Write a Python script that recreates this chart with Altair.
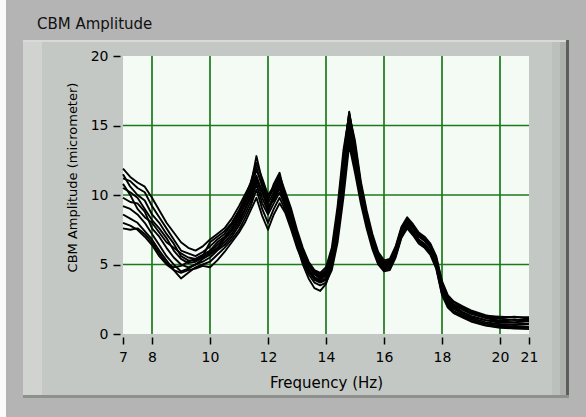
import altair as alt
import pandas as pd

# ---------------- data ----------------
freq = [7.0, 7.25, 7.5, 7.75, 8.0, 8.25, 8.5, 8.75, 9.0, 9.25, 9.5, 9.75, 10.0,
        10.25, 10.5, 10.75, 11.0, 11.2, 11.4, 11.6, 11.8, 12.0, 12.2, 12.4,
        12.6, 12.8, 13.0, 13.2, 13.4, 13.6, 13.8, 14.0, 14.2, 14.4, 14.6, 14.8,
        15.0, 15.2, 15.4, 15.6, 15.8, 16.0, 16.2, 16.4, 16.6, 16.8, 17.0, 17.2,
        17.4, 17.6, 17.8, 18.0, 18.2, 18.4, 18.7, 19.0, 19.5, 20.0, 20.5, 21.0]

run01 = [11.9, 11.3, 10.9, 10.6, 9.8, 8.9, 8.0, 7.3, 6.6, 6.2, 6.0, 6.3, 6.8, 7.2, 7.6, 8.3, 9.2, 10.0, 10.8, 12.0, 10.6, 9.8, 10.4, 11.2,
         10.0, 8.8, 7.3, 6.1, 5.1, 4.5, 4.3, 4.6, 5.8, 8.6, 12.4, 16.0, 13.4, 10.7, 8.6, 7.0, 5.8, 5.2, 5.3, 6.2, 7.6, 8.3, 7.8, 7.2, 6.9, 6.4, 5.5, 3.7, 2.7, 2.3, 1.9, 1.6, 1.3, 1.25, 1.2, 1.2]
run02 = [11.2, 11.0, 10.5, 10.2, 9.2, 8.4, 7.6, 6.8, 6.0, 5.8, 5.6, 5.9, 6.3, 6.8, 7.2, 7.9, 8.8, 9.6, 10.6, 12.8, 11.0, 9.6, 10.8, 11.6,
         9.8, 8.6, 7.1, 5.9, 5.0, 4.3, 4.1, 4.4, 5.6, 8.2, 12.0, 15.6, 13.1, 10.5, 8.4, 6.8, 5.6, 5.0, 5.1, 6.0, 7.4, 8.1, 7.7, 7.1, 6.8, 6.3, 5.3, 3.4, 2.5, 2.1, 1.75, 1.45, 1.15, 0.95, 1.05, 0.9]
run03 = [10.5, 10.2, 9.8, 9.0, 8.2, 7.6, 6.9, 6.0, 5.4, 5.1, 5.2, 5.5, 5.9, 6.4, 6.9, 7.5, 8.4, 9.3, 10.2, 11.4, 10.2, 9.0, 10.0, 10.8,
         9.6, 8.4, 7.0, 5.8, 4.9, 4.3, 4.0, 4.3, 5.4, 8.0, 11.8, 15.4, 12.9, 10.3, 8.3, 6.7, 5.5, 4.9, 5.0, 5.9, 7.3, 8.0, 7.6, 7.0, 6.7, 6.2, 5.2, 3.3, 2.35, 1.9, 1.55, 1.25, 1.0, 0.8, 0.8, 0.75]
run04 = [9.8, 9.5, 9.4, 8.8, 7.6, 7.0, 6.2, 5.5, 5.0, 4.8, 5.0, 5.4, 5.7, 6.1, 6.6, 7.2, 8.0, 8.9, 9.8, 11.0, 10.4, 9.2, 9.6, 10.5,
         9.3, 8.2, 6.8, 5.6, 4.7, 4.1, 3.9, 4.2, 5.2, 7.6, 11.2, 14.8, 12.6, 10.1, 8.1, 6.5, 5.3, 4.8, 4.9, 5.8, 7.2, 7.9, 7.4, 6.8, 6.5, 6.0, 5.0, 3.1, 2.2, 1.8, 1.45, 1.15, 0.85, 0.7, 0.65, 0.7]
run05 = [9.2, 9.0, 8.6, 8.0, 7.2, 6.4, 5.6, 5.0, 4.5, 4.7, 5.0, 5.2, 5.5, 6.0, 6.4, 7.0, 7.8, 8.6, 9.5, 10.8, 9.4, 8.6, 9.4, 10.2,
         9.1, 8.0, 6.6, 5.5, 4.6, 4.0, 3.8, 4.0, 5.0, 7.3, 10.8, 14.4, 12.3, 9.9, 8.0, 6.4, 5.2, 4.7, 4.8, 5.7, 7.1, 7.8, 7.3, 6.7, 6.4, 5.9, 4.9, 3.0, 2.1, 1.65, 1.35, 1.05, 0.75, 0.6, 0.55, 0.5]
run06 = [8.6, 8.3, 8.0, 7.4, 6.8, 6.0, 5.3, 4.6, 4.0, 4.4, 4.8, 5.0, 5.2, 5.7, 6.2, 6.8, 7.5, 8.3, 9.2, 10.4, 9.0, 8.0, 9.0, 9.8,
         8.9, 7.8, 6.5, 5.4, 4.5, 3.9, 3.7, 3.9, 4.8, 7.0, 10.4, 14.0, 12.0, 9.7, 7.8, 6.3, 5.1, 4.6, 4.7, 5.6, 7.0, 7.7, 7.2, 6.6, 6.3, 5.8, 4.8, 2.9, 2.0, 1.6, 1.3, 0.95, 0.65, 0.5, 0.5, 0.45]
run07 = [8.0, 7.8, 7.5, 7.0, 6.4, 5.6, 5.0, 4.6, 4.4, 4.6, 4.7, 4.9, 4.8, 5.3, 5.9, 6.6, 7.3, 8.0, 8.9, 9.8, 8.5, 7.5, 8.6, 9.4,
         8.7, 7.5, 6.2, 5.2, 4.3, 3.7, 3.5, 3.7, 4.6, 6.6, 9.8, 13.6, 11.6, 9.4, 7.6, 6.1, 5.0, 4.5, 4.6, 5.5, 6.9, 7.6, 7.1, 6.5, 6.2, 5.7, 4.7, 2.8, 1.9, 1.5, 1.2, 0.9, 0.6, 0.45, 0.4, 0.35]
run08 = [7.6, 7.5, 7.6, 7.2, 6.6, 5.8, 5.1, 4.8, 4.9, 5.2, 5.4, 5.6, 5.8, 6.2, 6.8, 7.4, 8.2, 9.0, 10.0, 11.2, 9.8, 8.8, 9.8, 10.6,
         9.5, 8.1, 6.4, 5.0, 4.0, 3.3, 3.1, 3.6, 4.9, 7.5, 11.0, 14.9, 13.0, 10.4, 8.3, 6.6, 5.4, 4.9, 5.1, 6.1, 7.5, 8.2, 7.7, 7.0, 6.8, 6.3, 5.4, 3.4, 2.5, 2.0, 1.6, 1.3, 1.0, 0.9, 0.85, 0.95]
run09 = [10.8, 10.0, 9.0, 8.4, 8.0, 7.3, 6.6, 6.2, 5.8, 5.5, 5.4, 5.7, 6.0, 6.6, 7.0, 7.7, 8.6, 9.4, 10.4, 11.8, 10.8, 9.4, 10.2, 11.0,
         9.9, 8.7, 7.2, 6.0, 5.0, 4.4, 4.2, 4.5, 5.9, 8.8, 12.8, 15.9, 13.6, 10.8, 8.7, 7.0, 5.7, 5.1, 5.2, 6.1, 7.5, 8.2, 7.8, 7.2, 6.9, 6.4, 5.4, 3.5, 2.6, 2.15, 1.8, 1.5, 1.2, 1.1, 1.0, 1.05]
run10 = [11.5, 10.6, 10.0, 9.6, 8.6, 8.0, 7.2, 6.5, 5.6, 5.3, 5.3, 5.6, 6.6, 7.0, 7.4, 8.0, 8.9, 9.8, 10.9, 12.3, 11.2, 10.0, 10.6, 11.4,
         10.2, 9.0, 7.5, 6.2, 5.2, 4.6, 4.4, 4.8, 6.2, 9.2, 13.2, 15.8, 13.9, 11.0, 8.9, 7.2, 5.9, 5.3, 5.4, 6.3, 7.7, 8.4, 7.9, 7.3, 7.0, 6.5, 5.6, 3.8, 2.8, 2.35, 2.0, 1.7, 1.35, 1.15, 1.25, 1.1]

runs = {"01": run01, "02": run02, "03": run03, "04": run04, "05": run05,
        "06": run06, "07": run07, "08": run08, "09": run09, "10": run10}

x_ticks = [7, 8, 10, 12, 14, 16, 18, 20, 21]
y_ticks = [0, 5, 10, 15, 20]
grid_x = [8, 10, 12, 14, 16, 18, 20]
grid_y = [5, 10, 15]

rows = []
for name, vals in runs.items():
    assert len(vals) == len(freq), name
    for f, v in zip(freq, vals):
        rows.append({"run": name, "freq": f, "amp": v})
df = pd.DataFrame(rows)

# ---------------- styling ----------------
W, H = 406, 278
FONT = "DejaVu Sans"
GRID = "#1b7a1b"

xs = alt.Scale(domain=[7, 21], nice=False, zero=False)
ys = alt.Scale(domain=[0, 20], nice=False)

x_axis = alt.Axis(values=x_ticks, title="Frequency (Hz)", grid=False, domain=False,
                  tickSize=7, tickWidth=1.5, tickColor="#000", offset=3,
                  labelPadding=6, labelFont=FONT, labelFontSize=14, labelColor="#000",
                  labelFlush=False, labelOverlap=False, format="d",
                  titleFont=FONT, titleFontSize=15, titleFontWeight="normal",
                  titleColor="#000", titlePadding=11)
y_axis = alt.Axis(values=y_ticks, title="CBM Amplitude (micrometer)", grid=False, domain=False,
                  tickSize=7, tickWidth=1.5, tickColor="#000", offset=3,
                  labelPadding=5, labelFont=FONT, labelFontSize=14, labelColor="#000",
                  labelFlush=False, labelOverlap=False, format="d",
                  titleFont=FONT, titleFontSize=13, titleFontWeight="normal",
                  titleColor="#000", titlePadding=11, titleY=121)

one = pd.DataFrame({"k": [0]})


def box(x, x2, y, y2, color):
    return alt.Chart(one).mark_rect(color=color, strokeWidth=0).encode(
        x=alt.value(x), x2=alt.value(x2), y=alt.value(y), y2=alt.value(y2))


gx = alt.Chart(pd.DataFrame({"g": grid_x})).mark_rule(color=GRID, strokeWidth=1.7).encode(
    x=alt.X("g:Q", scale=xs, axis=x_axis))
gy = alt.Chart(pd.DataFrame({"g": grid_y})).mark_rule(color=GRID, strokeWidth=1.7).encode(
    y=alt.Y("g:Q", scale=ys, axis=y_axis))

lines = alt.Chart(df).mark_line(color="#000", strokeWidth=1.9, strokeJoin="round").encode(
    x=alt.X("freq:Q", scale=xs, axis=x_axis),
    y=alt.Y("amp:Q", scale=ys, axis=y_axis),
    detail="run:N",
    order="freq:Q")

OUT = "#b4b4b4"
deco = [
    # outer grey frame around the panel
    box(-123, 463, -56, -16, OUT),
    box(-123, 463, 342, 361, OUT),
    box(-123, -100, -56, 361, OUT),
    box(446, 463, -56, 361, OUT),
    box(-123, -117, -56, 361, "#fbfbfb"),
    # panel bevels
    box(-100, 446, -16, -14, "#d8dad8"),
    box(-100, -81, -14, 342, "#d1d3d1"),
    box(429, 437, -14, 342, "#bcc0bc"),
    box(437, 443, -14, 342, "#adb0ad"),
    box(443, 446, -16, 342, "#5c5e5c"),
    box(-100, 446, 339, 342, "#8e908e"),
]

title = alt.Chart(one).mark_text(text="CBM Amplitude", font=FONT, fontSize=15,
                                 align="left", baseline="alphabetic", color="#111").encode(
    x=alt.value(-86), y=alt.value(-27.5))

chart = alt.layer(gx, gy, lines, *deco, title).properties(
    width=W, height=H,
    autosize=alt.AutoSizeParams(type="none"),
    padding={"left": 123, "top": 56, "right": 57, "bottom": 83},
    background="#c4c8c4",
).configure_view(fill="#f4fbf4", stroke=None)

chart.save("out.html", embed_options={"renderer": "svg", "actions": False})
